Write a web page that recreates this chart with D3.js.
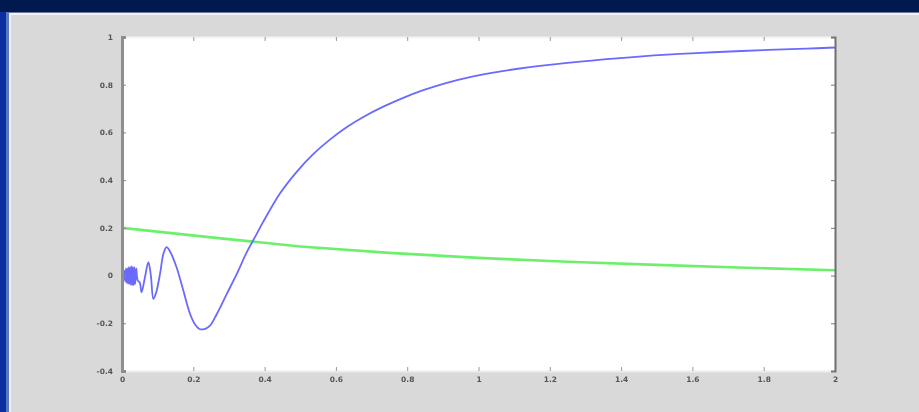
<!DOCTYPE html>
<html>
<head>
<meta charset="utf-8">
<script src="https://cdn.jsdelivr.net/npm/d3@7"></script>
<style>
  html, body { margin: 0; padding: 0; }
  body { width: 919px; height: 412px; background: #001a4f; position: relative; overflow: hidden; }
  #edge { position: absolute; left: 0; top: 12px; width: 6px; height: 400px; background: #0a2ea0; border-right: 3px solid #5a78c0; }
  #panel { position: absolute; left: 9px; top: 13px; width: 910px; height: 399px; background: #d9d9d9;
           border-top: 2px solid #f2f2f2; border-left: 2px solid #f2f2f2; box-shadow: 0 -1px 0 #6b7a9a; }
  svg { position: absolute; left: 0; top: 0; }
  .axis text { font-family: "DejaVu Sans", sans-serif; font-size: 7.5px; font-weight: bold; fill: #555; }
</style>
</head>
<body>
<div id="edge"></div>
<div id="panel"></div>
<div id="chart"></div>
<script>
// tick labels
const xTicks = [0, 0.2, 0.4, 0.6, 0.8, 1, 1.2, 1.4, 1.6, 1.8, 2];
const xLabels = ["0", "0.2", "0.4", "0.6", "0.8", "1", "1.2", "1.4", "1.6", "1.8", "2"];
const yTicks = [-0.4, -0.2, 0, 0.2, 0.4, 0.6, 0.8, 1];
const yLabels = ["-0.4", "-0.2", "0", "0.2", "0.4", "0.6", "0.8", "1"];

// blue series (x, y)
const blueX = [0, 0.003, 0.005, 0.007, 0.009, 0.011, 0.013, 0.015, 0.017, 0.019, 0.021, 0.023, 0.025,
  0.027, 0.029, 0.031, 0.033, 0.035, 0.037, 0.040, 0.044,
  0.050, 0.055, 0.064, 0.074, 0.081, 0.088, 0.096, 0.107, 0.116, 0.125, 0.135, 0.153, 0.172, 0.191, 0.205,
  0.219, 0.235, 0.247, 0.266, 0.294, 0.322, 0.35, 0.378, 0.396, 0.443, 0.49, 0.537, 0.583, 0.63, 0.677,
  0.733, 0.789, 0.845, 0.911, 0.976, 1.05, 1.144, 1.285, 1.425, 1.565, 1.658, 1.8, 1.92, 2];
const blueY = [0, 0.015, -0.015, 0.02, -0.025, 0.03, -0.03, 0.03, -0.035, 0.035, -0.035, 0.035, -0.04,
  0.04, -0.04, 0.035, -0.04, 0.035, -0.035, 0.03, -0.02,
  -0.03, -0.07, -0.01, 0.056, 0.0, -0.098, -0.07, 0.01, 0.09, 0.119, 0.1, 0.035, -0.063, -0.161, -0.205,
  -0.225, -0.222, -0.21, -0.161, -0.077, 0.007, 0.098, 0.175, 0.225, 0.344, 0.435, 0.51, 0.57, 0.622, 0.665,
  0.708, 0.745, 0.777, 0.808, 0.832, 0.853, 0.874, 0.897, 0.915, 0.929, 0.936, 0.945, 0.951, 0.956];

// green series
const greenX = [0, 0.25, 0.5, 0.75, 1, 1.25, 1.5, 1.75, 2];
const greenY = [0.2, 0.16, 0.122, 0.095, 0.074, 0.058, 0.045, 0.033, 0.022];

const W = 919, H = 412;
const plot = { left: 122, right: 835, top: 37, bottom: 371 };

const svg = d3.select("#chart").append("svg")
  .attr("width", W)
  .attr("height", H);

svg.append("defs").append("filter").attr("id", "soft")
  .append("feGaussianBlur").attr("stdDeviation", 0.55);

const x = d3.scaleLinear().domain([0, 2]).range([plot.left, plot.right]);
const y = d3.scaleLinear().domain([-0.4, 1]).range([plot.bottom, plot.top]);

const g = svg.append("g").attr("filter", "url(#soft)");

// white plot box
g.append("rect")
  .attr("x", plot.left).attr("y", plot.top)
  .attr("width", plot.right - plot.left)
  .attr("height", plot.bottom - plot.top)
  .attr("fill", "#fff");

const line = d3.line().x(d => x(d[0])).y(d => y(d[1]));

g.append("path")
  .datum(greenX.map((v, i) => [v, greenY[i]]))
  .attr("d", line)
  .attr("fill", "none")
  .attr("stroke", "#6cf06c")
  .attr("stroke-width", 2.6);

g.append("path")
  .datum(blueX.map((v, i) => [v, blueY[i]]))
  .attr("d", d3.line().curve(d3.curveCatmullRom.alpha(0.5)).x(d => x(d[0])).y(d => y(d[1])))
  .attr("fill", "none")
  .attr("stroke", "#6a6aff")
  .attr("stroke-width", 1.8);

// axes (ticks pointing inward, as in the original)
const ax = g.append("g").attr("class", "axis");

ax.append("g")
  .attr("transform", `translate(0,${plot.bottom})`)
  .call(d3.axisBottom(x).tickValues(xTicks).tickFormat((d, i) => xLabels[i]).tickSize(-4).tickPadding(6))
  .call(s => s.select(".domain").attr("stroke", "#ececec").attr("stroke-width", 2))
  .call(s => s.selectAll(".tick line").attr("stroke", "#999"));

ax.append("g")
  .attr("transform", `translate(0,${plot.top})`)
  .call(d3.axisTop(x).tickValues(xTicks).tickFormat("").tickSize(-4))
  .call(s => s.select(".domain").attr("stroke", "#f4f4f4").attr("stroke-width", 2))
  .call(s => s.selectAll(".tick line").attr("stroke", "#999"));

ax.append("g")
  .attr("transform", `translate(${plot.left},0)`)
  .call(d3.axisLeft(y).tickValues(yTicks).tickFormat((d, i) => yLabels[i]).tickSize(-4).tickPadding(9))
  .call(s => s.select(".domain").attr("stroke", "#8f8f8f").attr("stroke-width", 3))
  .call(s => s.selectAll(".tick line").attr("stroke", "#888"));

ax.append("g")
  .attr("transform", `translate(${plot.right},0)`)
  .call(d3.axisRight(y).tickValues(yTicks).tickFormat("").tickSize(-4))
  .call(s => s.select(".domain").attr("stroke", "#6e6e6e").attr("stroke-width", 2))
  .call(s => s.selectAll(".tick line").attr("stroke", "#777"));
</script>
</body>
</html>
